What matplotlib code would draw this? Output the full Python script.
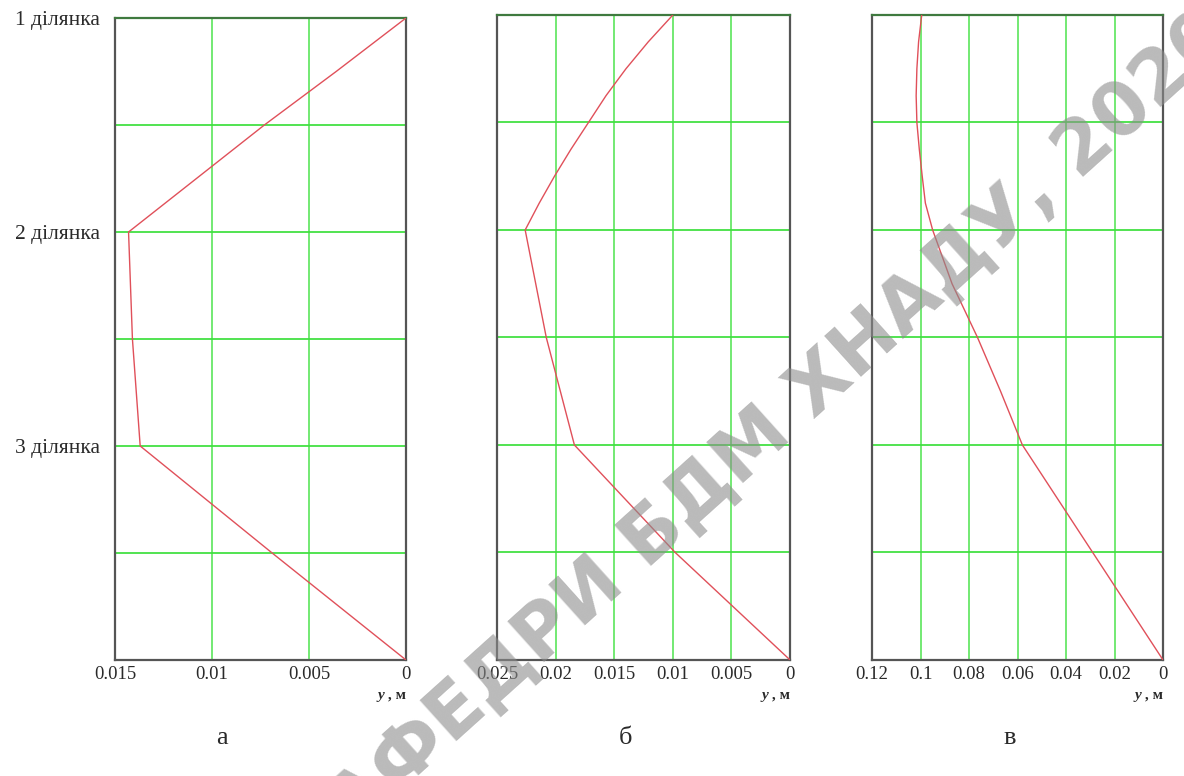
import numpy as np
import matplotlib
matplotlib.use("Agg")
from matplotlib import pyplot as plt
from matplotlib import transforms

# section coordinate along the beam (0 = top, 3 = bottom) and deflection y, m
pos_a = [0, 0.25, 0.5, 0.75, 1.0, 1.5, 2.0, 2.5, 3.0]
defl_a = [0, 0.0036, 0.0073, 0.0108, 0.0143, 0.0141, 0.0137, 0.0069, 0]

pos_b = [0, 0.125, 0.25, 0.375, 0.5, 0.625, 0.75, 0.875, 1.0, 1.5, 2.0, 2.25, 2.5, 2.75, 3.0]
defl_b = [0.01, 0.0121, 0.0140, 0.0157, 0.0172, 0.0187, 0.0201, 0.0214, 0.0226, 0.0208,
          0.0184, 0.0141, 0.0098, 0.0049, 0]

pos_c = [0, 0.125, 0.25, 0.375, 0.5, 0.625, 0.75, 0.875, 1.0, 1.25, 1.5, 1.75, 2.0, 2.5, 3.0]
defl_c = [0.0995, 0.1008, 0.1015, 0.1018, 0.1015, 0.1005, 0.0993, 0.098, 0.095, 0.087,
          0.0765, 0.067, 0.058, 0.029, 0]

xticks_a = [0.015, 0.01, 0.005, 0]
xlabels_a = ["0.015", "0.01", "0.005", "0"]
xticks_b = [0.025, 0.02, 0.015, 0.01, 0.005, 0]
xlabels_b = ["0.025", "0.02", "0.015", "0.01", "0.005", "0"]
xticks_c = [0.12, 0.1, 0.08, 0.06, 0.04, 0.02, 0]
xlabels_c = ["0.12", "0.1", "0.08", "0.06", "0.04", "0.02", "0"]

section_pos = [0, 1, 2]
section_labels = ["1 ділянка", "2 ділянка", "3 ділянка"]
panel_letters = ["а", "б", "в"]

SERIF = ["Liberation Serif", "DejaVu Serif"]
GRID = "#3ee03e"
CURVE = "#e0505a"
FRAME = "#555555"
TXT = "#2a2a2a"

fig = plt.figure(figsize=(11.84, 7.76), dpi=100)

boxes = [(0.0971, 0.1495, 0.2458, 0.8273),
         (0.4198, 0.1495, 0.2475, 0.8312),
         (0.7365, 0.1495, 0.2458, 0.8312)]
data = [(pos_a, defl_a, xticks_a, xlabels_a),
        (pos_b, defl_b, xticks_b, xlabels_b),
        (pos_c, defl_c, xticks_c, xlabels_c)]
letter_x = [222, 625, 1010]

for i, (box, (pos, defl, xt, xl)) in enumerate(zip(boxes, data)):
    ax = fig.add_axes(box)
    ax.set_xlim(xt[0], xt[-1])
    ax.set_ylim(3, 0)

    # grid lines (inner ones only, frame drawn by spines)
    for v in xt[1:-1]:
        ax.axvline(v, color=GRID, lw=1.2, alpha=0.85, zorder=1)
    for h in np.arange(0.5, 3.0, 0.5):
        ax.axhline(h, color=GRID, lw=1.4, alpha=0.9, zorder=1)

    ax.plot(defl, pos, color=CURVE, lw=1.0, zorder=3)

    ax.set_xticks(xt)
    ax.set_xticklabels(xl, family=SERIF, fontsize=13.5)
    ax.tick_params(axis="x", length=0, pad=4, colors=TXT)
    if i == 0:
        ax.set_yticks(section_pos)
        ax.set_yticklabels(section_labels, family=SERIF, fontsize=15.5)
        ax.tick_params(axis="y", length=0, pad=11, colors=TXT)
    else:
        ax.set_yticks([])

    for s in ax.spines.values():
        s.set_color(FRAME)
        s.set_linewidth(1.6)
    ax.spines["top"].set_color("#3f7a3f")

    # axis caption "y , м" under the zero tick
    ax.text(1.0, -0.045, " , м", transform=ax.transAxes, ha="right", va="top",
            family=SERIF, fontsize=11, fontweight="bold", color=TXT)
    shift = transforms.offset_copy(ax.transAxes, fig=fig, x=-22, y=0, units="dots")
    ax.text(1.0, -0.045, "y", transform=shift, ha="right", va="top",
            family=SERIF, fontsize=11, style="italic", fontweight="bold", color=TXT)

    fig.text(letter_x[i] / 1184, 1 - 738 / 776, panel_letters[i], family=SERIF,
             fontsize=19, ha="center", va="center", color=TXT)

# watermark across the figure
fig.text(758 / 1184, 1 - 443 / 776, "КАФЕДРИ БДМ ХНАДУ, 2020", family="DejaVu Sans",
         fontsize=54, fontweight="bold", rotation=42, rotation_mode="anchor",
         ha="center", va="center", color="#8c8c8c", alpha=0.6, zorder=10)

fig.savefig("out.png", dpi=100)
